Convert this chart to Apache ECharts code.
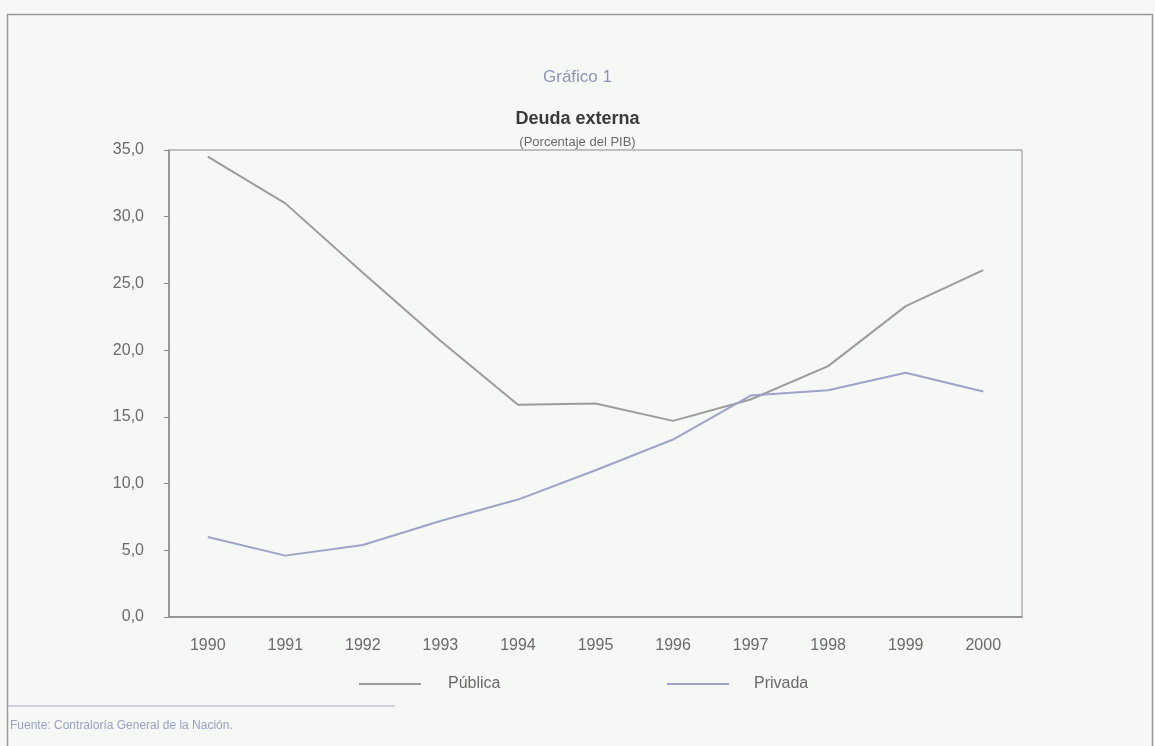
<!DOCTYPE html>
<html>
<head>
<meta charset="utf-8">
<script src="https://cdn.jsdelivr.net/npm/echarts@6/dist/echarts.min.js"></script>
<style>
  html, body { margin: 0; padding: 0; background: #f6f8f5; }
  #chart { width: 1155px; height: 746px; }
</style>
</head>
<body>
<div id="chart"></div>
<script>
var years = ['1990', '1991', '1992', '1993', '1994', '1995', '1996', '1997', '1998', '1999', '2000'];
var publica = [34.5, 31.0, 25.8, 20.7, 15.9, 16.0, 14.7, 16.3, 18.8, 23.3, 26.0];
var privada = [6.0, 4.6, 5.4, 7.2, 8.8, 11.0, 13.3, 16.6, 17.0, 18.3, 16.9];

var FONT = 'Liberation Sans';
var chart = echarts.init(document.getElementById('chart'));

var option = {
    backgroundColor: '#f6f8f5',
    textStyle: { fontFamily: FONT },
    title: [
        { text: 'Gráfico 1', left: 'center', top: 64, textStyle: { fontFamily: FONT, fontSize: 17, fontWeight: 'normal', color: '#8b93bb' } },
        { text: 'Deuda externa', left: 'center', top: 105, textStyle: { fontFamily: FONT, fontSize: 18, fontWeight: 'bold', color: '#3a3a3a' } },
        { text: '(Porcentaje del PIB)', left: 'center', top: 131, textStyle: { fontFamily: FONT, fontSize: 13, fontWeight: 'normal', color: '#6a6a6a' } }
    ],
    legend: [
        {
            data: ['Pública'], left: 354, top: 671, itemWidth: 62, itemHeight: 2,
            icon: 'rect',
            textStyle: { fontFamily: FONT, fontSize: 16, color: '#6a6a6a', padding: [0, 0, 0, 22] }
        },
        {
            data: ['Privada'], left: 662, top: 671, itemWidth: 62, itemHeight: 2,
            icon: 'rect',
            textStyle: { fontFamily: FONT, fontSize: 16, color: '#6a6a6a', padding: [0, 0, 0, 20] }
        }
    ],
    grid: { left: 169, right: 133, top: 150, bottom: 129, show: true, borderColor: '#8a8a8a', borderWidth: 1, backgroundColor: 'transparent' },
    xAxis: {
        type: 'category',
        data: years,
        boundaryGap: true,
        axisLine: { lineStyle: { color: '#8a8a8a', width: 1.5 } },
        axisTick: { inside: true, length: 6, lineStyle: { color: '#8a8a8a' } },
        axisLabel: { fontFamily: FONT, fontSize: 16, color: '#6a6a6a', margin: 21 }
    },
    yAxis: {
        type: 'value',
        min: 0, max: 35, interval: 5,
        axisLine: { show: true, lineStyle: { color: '#8a8a8a', width: 1.5 } },
        axisTick: { show: true, length: 5, lineStyle: { color: '#8a8a8a' } },
        splitLine: { show: false },
        axisLabel: {
            fontFamily: FONT, fontSize: 16, color: '#6a6a6a', margin: 25,
            formatter: function (v) { return v.toFixed(1).replace('.', ','); }
        }
    },
    graphic: [
        { type: 'rect', left: 5, top: 12, shape: { width: 1145, height: 760 }, style: { fill: 'none', stroke: '#9a9a9a', lineWidth: 1.5 }, silent: true, z: -1 },
        { type: 'line', shape: { x1: 6, y1: 706, x2: 395, y2: 706 }, style: { stroke: '#a7acc8', lineWidth: 1.2 }, silent: true },
        { type: 'text', left: 10, top: 720, style: { text: 'Fuente: Contraloría General de la Nación.', font: '12px "Liberation Sans"', fill: '#98a0c6' } }
    ],
    series: [
        {
            name: 'Pública', type: 'line', data: publica,
            symbol: 'none', color: '#9c9c9c',
            lineStyle: { color: '#9c9c9c', width: 2 }
        },
        {
            name: 'Privada', type: 'line', data: privada,
            symbol: 'none', color: '#9da3c9',
            lineStyle: { color: '#9da3c9', width: 2 }
        }
    ]
};

chart.setOption(option);
</script>
</body>
</html>
